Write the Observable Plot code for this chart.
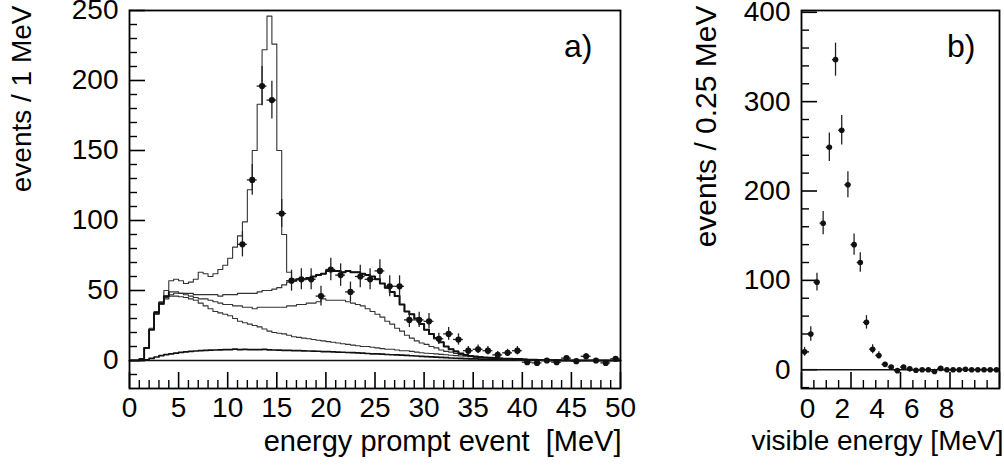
<!DOCTYPE html>
<html>
<head>
<meta charset="utf-8">
<script src="https://cdn.jsdelivr.net/npm/d3@7"></script>
<script src="https://cdn.jsdelivr.net/npm/@observablehq/plot@0.6"></script>
<style>
  html, body { margin: 0; padding: 0; background: #fff; }
  #wrap { display: flex; width: 1004px; height: 469px; overflow: hidden; }
  #wrap svg { overflow: visible; }
</style>
</head>
<body>
<div id="wrap"><div id="pa"></div><div id="pb"></div></div>
<script>
// ---------------- Panel a) data ----------------
const binWidthA = 0.5; // MeV, histogram bins start at 0
// total expectation incl. peak
const histTotalPeak = [0,0,1,9,23,35,42,50, 57,58,57,55,56,58,63,62, 60,62,65,68,73,81,89,99,
  122,150,183,222,246,226,150,90, 63,58,58,58,59,60,61,62, 64,64,64,63,64,63,63,62,
  61,60,58,55,52,49,46,40, 35,33,30,26,22,19,16,13, 10,8,6.5,5,4,3.3,2.8,2.4,
  2.1,1.9,1.7,1.5,1.3,1.2,1.1,1, 0.8,0.6,0.5,0.4,0.3,0.2,0.2,0.1, 0,0,0,0,0,0,0,0, 0,0,0,0];
// total expectation without peak
const histTotal = [0,0,1,9,22,34,41,46, 49,49,48,48,48,47,47,47, 47,47,46,47,47,47,48,48,
  48,48,49,50,50,51,52,54, 56,57,58,58,59,60,61,62, 64,64,64,63,64,63,63,62,
  61,60,58,55,52,49,46,40, 35,33,30,26,22,19,16,13, 10,8,6.5,5,4,3.3,2.8,2.4,
  2.1,1.9,1.7,1.5,1.3,1.2,1.1,1, 0.8,0.6,0.5,0.4,0.3,0.2,0.2,0.1, 0,0,0,0,0,0,0,0, 0,0,0,0];
const histComp3 = [0,0,1,9,22,33,40,45, 47,48,48,47,46,45,44,44, 43,42,41,40,40,39,39,38,
  38,37,38,38,38,38,38,38, 39,39,40,40,41,41,42,44, 43,43,43,43,42,41,40,39,
  37,35,33,31,28,26,23,21, 18,16,14,12.5,11.5,10,9,7.5, 6.5,6,5,4.2,3.7,3.3,2.8,2.4,
  2,1.7,1.5,1.3,1.1,0.9,0.8,0.6, 0.5,0.4,0.3,0.2,0.2,0.1,0,0, 0,0,0,0,0,0,0,0, 0,0,0,0];
const histComp4 = [0,0,1,9,22,33,40,44, 46,46,45.5,45,44,43,41,39, 37,35,34,33,32,30,28,27,
  26,25,24,22.5,21,20,19.5,19, 18,17,16.5,16,15.5,15,14.5,14, 13.5,13,12.5,12,11.5,11,10.5,10,
  10,9.5,9,8.5,8,8,7.5,7, 7,6.5,6,5.5,5.2,5,4.7,4.4, 4.1,3.8,3.5,3.2,3,2.8,2.5,2.3,
  2,1.8,1.6,1.4,1.2,1,0.9,0.8, 0.7,0.6,0.5,0.4,0.3,0.3,0.2,0.2, 0.1,0.1,0,0,0,0,0,0, 0,0,0,0];
const histComp5 = [0,0,0,0.5,1.5,2.5,3.5,4.2, 4.8,5.3,5.8,6.2,6.5,6.8,7,7.2, 7.4,7.5,7.6,7.7,7.8,8.1,7.7,7.9,
  7.8,7.8,7.7,8,7.6,7.5,7.4,7.3, 7.2,7.1,7,6.9,6.8,6.7,6.6,6.4, 6.3,6.2,6,5.9,5.7,5.6,5.4,5.2,
  5,4.8,4.7,4.5,4.3,4.1,4,3.8, 3.6,3.4,3.2,3,2.8,2.6,2.4,2.2, 2,1.8,1.6,1.5,1.3,1.2,1.1,1,
  0.9,0.8,0.7,0.6,0.5,0.5,0.4,0.4, 0.3,0.3,0.2,0.2,0.1,0.1,0,0, 0,0,0,0,0,0,0,0, 0,0,0,0];

const dataAx = [11.5,12.5,13.5,14.5,15.5,16.5,17.5,18.5,19.5,20.5,21.5,22.5,23.5,24.5,25.5,26.5,27.5,28.5,29.5,30.5,
  31.5,32.5,33.5,34.5,35.5,36.5,37.5,38.5,39.5,40.5,41.5,42.5,43.5,44.5,45.5,46.5,47.5,48.5,49.5];
const dataAy = [83,129,196,186,105,57,58,58,46,65,61,49,60,58,64,53,53,29,29,28,
  15.5,19,15,7,8,7,4,5.5,7,-1.2,-1.7,0,-1.2,1.7,-0.5,3,0,-1.7,1.2];
const dataAerr = [9,11,14,13.5,10,7.5,7.5,7.5,7,8,8,7,8,7.5,8,7.5,7.5,5.5,5.5,5.5,
  4,4.5,4,3,3,3,2.5,2.5,3,1.5,1.5,1.5,1.5,1.5,1.5,2,1.5,1.5,1.5];
const dataAhalf = 0.5;

const xTicksA = [0,5,10,15,20,25,30,35,40,45,50];
const yTicksA = [0,50,100,150,200,250];

// ---------------- Panel b) data ----------------
const dataBx = [0.125,0.375,0.625,0.875,1.125,1.375,1.625,1.875,2.125,2.375,2.625,2.875,3.125,3.375,3.625,3.875,
  4.125,4.375,4.625,4.875,5.125,5.375,5.625,5.875,6.125,6.375,6.625,6.875,7.125,7.375,7.625,7.875];
const dataBy = [20,40,98,164,249,347,268,207,140,120,53,23,16,6,3,-1,
  3,1,-0.5,0,0,-2,1.5,0,0,0,0.5,0,0,0,0,0];
const dataBerr = [5,8,10,13,16,18.5,16.5,14.5,12,11,7.5,5,4,2.5,2,1.5,
  2,1.5,1.5,1.5,1.5,1.5,1.5,1.5,1.5,1.5,1.5,1.5,1.5,1.5,1.5,1.5];
const dataBhalf = 0.125;

const xTicksB = [0,2,4,6,8];
const yTicksB = [0,100,200,300,400];

// ---------------- drawing ----------------
const FONT = "'Liberation Sans',Arial,Helvetica,sans-serif";
const FS = 28;
const H = 469, MT = 10, MB = 81;
const frameH = H - MT - MB;

function steps(arr, w) {
  const pts = arr.map((v, i) => ({x: i * w, y: v}));
  pts.push({x: arr.length * w, y: arr[arr.length - 1]});
  return pts;
}
function points(xs, ys, es, half) {
  return xs.map((x, i) => ({x, y: ys[i], e: es[i], h: half}));
}

// Panel a
const WA = 640, MLA = 129, MRA = 20;
const fwA = WA - MLA - MRA;
const ptsA = points(dataAx, dataAy, dataAerr, dataAhalf);
const yMinorA = d3.range(-10, 250, 10).filter(v => v % 50 !== 0);
const xMinorA = d3.range(0, 51, 1).filter(v => v % 5 !== 0);
const lineOpts = {x: "x", y: "y", curve: "step-after"};

const plotA = Plot.plot({
  width: WA, height: H,
  marginLeft: MLA, marginRight: MRA, marginTop: MT, marginBottom: MB,
  style: {fontFamily: FONT, fontSize: FS + "px", color: "#000", background: "transparent"},
  x: {domain: [0, 50]},
  y: {domain: [-20, 250]},
  marks: [
    Plot.axisY(yTicksA, {tickSize: 0, tickPadding: 11, label: null, fontSize: FS}),
    Plot.axisX(xTicksA, {tickSize: 0, tickPadding: 9, label: null, fontSize: FS}),
    Plot.tickY(yMinorA, {y: d => d, insetRight: fwA - 8, stroke: "#000", strokeWidth: 1.4}),
    Plot.tickY(yTicksA, {y: d => d, insetRight: fwA - 16, stroke: "#000", strokeWidth: 1.6}),
    Plot.tickX(xMinorA, {x: d => d, insetTop: frameH - 8, stroke: "#000", strokeWidth: 1.4}),
    Plot.tickX(xTicksA, {x: d => d, insetTop: frameH - 16, stroke: "#000", strokeWidth: 1.6}),
    Plot.ruleY([0], {stroke: "#111", strokeWidth: 1.4}),
    Plot.line(steps(histComp5, binWidthA), {...lineOpts, stroke: "#111", strokeWidth: 1.7}),
    Plot.line(steps(histComp4, binWidthA), {...lineOpts, stroke: "#333", strokeWidth: 1.1}),
    Plot.line(steps(histComp3, binWidthA), {...lineOpts, stroke: "#333", strokeWidth: 1.1}),
    Plot.line(steps(histTotalPeak, binWidthA), {...lineOpts, stroke: "#333", strokeWidth: 1.1}),
    Plot.line(steps(histTotal, binWidthA), {...lineOpts, stroke: "#333", strokeWidth: 1.2}),
    // where the two totals coincide the reference shows a bold line
    Plot.line(steps(histTotal, binWidthA), {...lineOpts, filter: d => d.x >= 16.5, stroke: "#111", strokeWidth: 2}),
    Plot.line(steps(histTotal, binWidthA), {...lineOpts, filter: d => d.x <= 4, stroke: "#111", strokeWidth: 1.8}),
    Plot.ruleX(ptsA, {x: "x", y1: d => d.y - d.e, y2: d => d.y + d.e, stroke: "#222", strokeWidth: 1.3}),
    Plot.ruleY(ptsA, {y: "y", x1: d => d.x - d.h, x2: d => d.x + d.h, stroke: "#222", strokeWidth: 1.3}),
    Plot.dot(ptsA, {x: "x", y: "y", r: 3.1, fill: "#111", stroke: "none"}),
    Plot.frame({stroke: "#000", strokeWidth: 1.8}),
    Plot.text(["a)"], {frameAnchor: "top-right", dx: -28, dy: 36, textAnchor: "end", lineAnchor: "middle", fontSize: 32}),
    Plot.text(["energy prompt event \u00a0[MeV]"], {frameAnchor: "bottom-right", dx: 1, dy: 53, textAnchor: "end", lineAnchor: "middle", fontSize: 29}),
    Plot.text(["events / 1 MeV"], {frameAnchor: "top-left", rotate: -90, dx: -107, dy: -5, textAnchor: "end", lineAnchor: "middle", fontSize: FS})
  ]
});
document.getElementById("pa").appendChild(plotA);

// Panel b
const WB = 364, MLB = 161, MRB = 5;
const fwB = WB - MLB - MRB;
const ptsB = points(dataBx, dataBy, dataBerr, dataBhalf);
const yMinorB = d3.range(-20, 401, 20).filter(v => v % 100 !== 0);
const xMinorB = d3.range(0, 8.01, 0.5).filter(v => v % 2 !== 0);
// in the reference the x tick labels sit compressed to the left of their ticks
const labelPosB = v => 0.24 + 0.703 * v;

const plotB = Plot.plot({
  width: WB, height: H,
  marginLeft: MLB, marginRight: MRB, marginTop: MT, marginBottom: MB,
  style: {fontFamily: FONT, fontSize: FS + "px", color: "#000", background: "transparent"},
  x: {domain: [0, 8], axis: null},
  y: {domain: [-21, 402]},
  marks: [
    Plot.axisY(yTicksB, {tickSize: 0, tickPadding: 11, label: null, fontSize: FS}),
    Plot.tickY(yMinorB, {y: d => d, insetRight: fwB - 8, stroke: "#000", strokeWidth: 1.4}),
    Plot.tickY(yTicksB, {y: d => d, insetRight: fwB - 16, stroke: "#000", strokeWidth: 1.6}),
    Plot.tickX(xMinorB, {x: d => d, insetTop: frameH - 8, stroke: "#000", strokeWidth: 1.4}),
    Plot.tickX(xTicksB, {x: d => d, insetTop: frameH - 16, stroke: "#000", strokeWidth: 1.6}),
    Plot.text(xTicksB, {x: labelPosB, y: () => -21, dy: 21, text: d => String(d), lineAnchor: "middle", fontSize: FS}),
    Plot.ruleY([0], {stroke: "#111", strokeWidth: 1.4}),
    Plot.ruleX(ptsB, {x: "x", y1: d => d.y - d.e, y2: d => d.y + d.e, stroke: "#222", strokeWidth: 1.3}),
    Plot.ruleY(ptsB, {y: "y", x1: d => d.x - d.h, x2: d => d.x + d.h, stroke: "#222", strokeWidth: 1.3}),
    Plot.dot(ptsB, {x: "x", y: "y", r: 2.8, fill: "#111", stroke: "none"}),
    Plot.frame({stroke: "#000", strokeWidth: 1.8}),
    Plot.text(["b)"], {frameAnchor: "top-right", dx: -24, dy: 36, textAnchor: "end", lineAnchor: "middle", fontSize: 32}),
    Plot.text(["visible energy [MeV]"], {frameAnchor: "bottom-right", dx: 4, dy: 53, textAnchor: "end", lineAnchor: "middle", fontSize: FS}),
    Plot.text(["events / 0.25 MeV"], {frameAnchor: "top-left", rotate: -90, dx: -95, dy: -5, textAnchor: "end", lineAnchor: "middle", fontSize: 30})
  ]
});
document.getElementById("pb").appendChild(plotB);
</script>
</body>
</html>
